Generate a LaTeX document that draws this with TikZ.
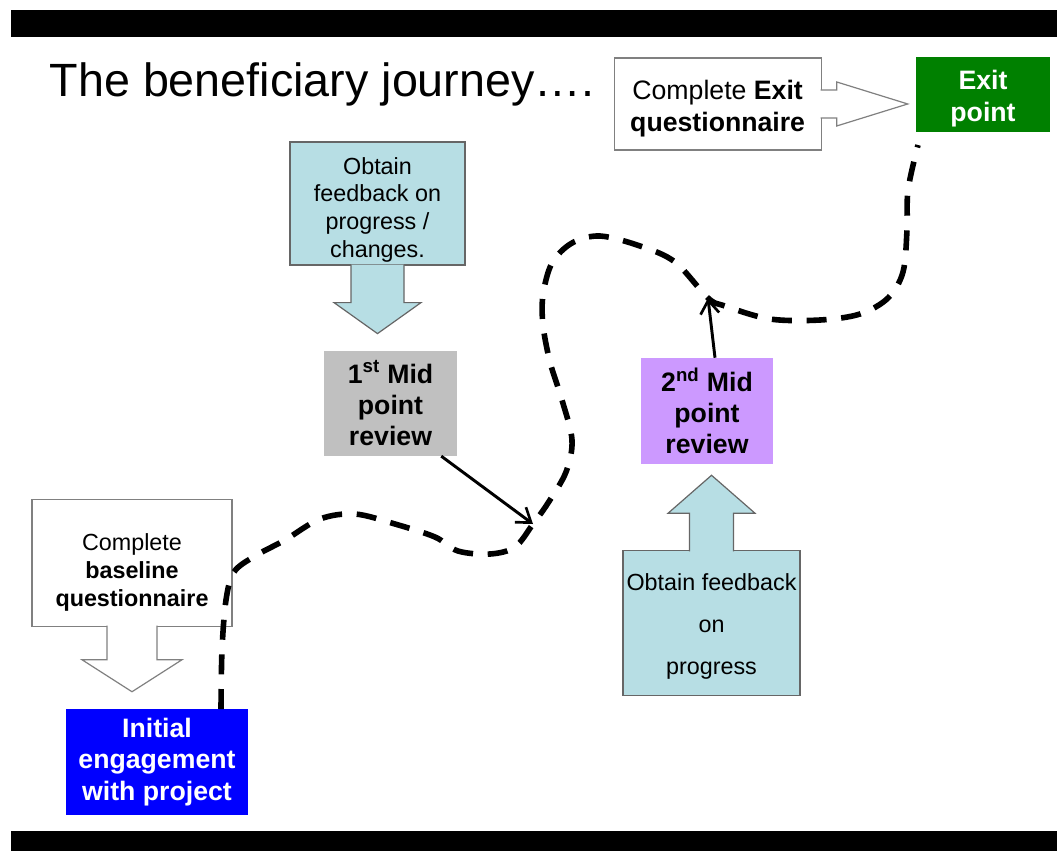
\documentclass[tikz,border=0pt]{standalone}
\usepackage{fontspec}
\setmainfont{Liberation Sans}
\usetikzlibrary{positioning,arrows.meta}

\definecolor{feedcyan}{RGB}{183,222,228}
\definecolor{midgray}{RGB}{192,192,192}
\definecolor{midviolet}{RGB}{204,153,255}
\definecolor{startblue}{RGB}{0,0,255}
\definecolor{exitgreen}{RGB}{0,128,0}

\newcommand{\toppad}[1]{\rule{0pt}{#1}}

\tikzset{
  box/.style={inner sep=0pt,align=center},
  feedbox/.style={box,draw=black!60,fill=feedcyan,line width=0.9pt},
  formbox/.style={box,draw=black!50,fill=white,line width=0.9pt},
  stagebox/.style={box,font=\fontsize{20}{23.5}\selectfont\bfseries},
  feedarrow/.style={draw=black!60,fill=feedcyan,line width=0.9pt,line join=miter},
  formarrow/.style={draw=black!50,fill=white,line width=0.9pt,line join=miter},
  pointer/.style={line width=2.2pt,-{Straight Barb[length=10pt,width=14pt,line width=2pt]}},
  journey/.style={line width=4.2pt,dash pattern=on 15pt off 11pt}
}

\begin{document}
\begin{tikzpicture}[x=0.75pt,y=-0.75pt]
\useasboundingbox (0,0) rectangle (1057,851);
\fill[white] (0,0) rectangle (1057,851);
\fill[black] (11,10) rectangle (1057,37);
\fill[black] (11,831) rectangle (1057,851);

\node[anchor=base west,font=\fontsize{35}{40}\selectfont] (title) at (45,96)
  {The beneficiary journey….};

% stages
\node[stagebox,
    fill=exitgreen,
    text=white,
    minimum width=100.5pt,
    minimum height=56.25pt
] (exitpt) at (983,94.5) {\toppad{20.5pt}Exit\\point};

\node[formbox,
    left=70.5pt of exitpt,
    yshift=-7.1pt,
    minimum width=155.25pt,
    minimum height=69pt,
    font=\fontsize{20}{24}\selectfont
] (exitq) {\toppad{22pt}Complete \textbf{Exit}\\\textbf{questionnaire}};

\node[feedbox,
    minimum width=131.25pt,
    minimum height=92.25pt,
    font=\fontsize{17.5}{20.8}\selectfont
] (fb1) at (377.5,203.5) {\toppad{22pt}Obtain\\feedback on\\progress /\\changes.};

\node[stagebox,
    fill=midgray,
    below=63.75pt of fb1,
    xshift=9.75pt,
    minimum width=99.75pt,
    minimum height=78.75pt
] (mid1) {1\textsuperscript{st} Mid\\point\\review};

\node[stagebox,
    fill=midviolet,
    minimum width=99pt,
    minimum height=79.5pt
] (mid2) at (707,411) {2\textsuperscript{nd} Mid\\point\\review};

\node[feedbox,
    below=64.5pt of mid2,
    xshift=3.4pt,
    minimum width=132.75pt,
    minimum height=108.75pt,
    font=\fontsize{17.5}{31.5}\selectfont
] (fb2) {\toppad{18pt}Obtain feedback\\on\\progress};

\node[stagebox,
    fill=startblue,
    text=white,
    minimum width=136.5pt,
    minimum height=79.5pt
] (init) at (157,762) {Initial\\engagement\\with project};

\node[formbox,
    above=61.5pt of init,
    xshift=-18.75pt,
    minimum width=150pt,
    minimum height=95.25pt,
    font=\fontsize{17.5}{21}\selectfont
] (base) {\toppad{28pt}Complete\\\textbf{baseline}\\\textbf{questionnaire}};

% block arrows
\path[feedarrow] (fb1.south) ++(-26.5,-1) -- ++(0,38) -- ++(-17,0)
  -- ++(43.5,31) -- ++(43.5,-31) -- ++(-17,0) -- ++(0,-38);
\path[feedarrow] (fb2.north) ++(-22,1) -- ++(0,-38) -- ++(-21.5,0)
  -- ++(43.5,-38) -- ++(43.5,38) -- ++(-21.5,0) -- ++(0,38);
\path[formarrow] (base.south) ++(-25,-1) -- ++(0,34) -- ++(-25,0)
  -- ++(50,32) -- ++(50,-32) -- ++(-25,0) -- ++(0,-34);
\path[formarrow] (exitq.east) ++(-1,-14) -- ++(16,0) -- ++(0,-8)
  -- ++(71,22) -- ++(-71,22) -- ++(0,-8) -- ++(-16,0);

% the journey
\coordinate (j0) at (221,709);
\coordinate (j1) at (533,524);
\coordinate (j2) at (708,298);
\coordinate (j3) at (918,145);
\draw[journey] plot[smooth,tension=0.55] coordinates {(j0) (222,650) (226,600)
  (234,572) (255,556) (285,540) (320,519) (355,514) (395,524) (435,537)
  (458,551) (490,554) (515,547) (j1) (548,503) (566,472) (572,440) (562,400)
  (550,362) (543,325) (543,295) (552,263) (572,243) (600,236) (640,246)
  (675,262) (j2) (725,306) (770,319) (820,320) (860,314) (888,298) (903,272)
  (907,230) (908,190) (j3)};

\draw[pointer] ([xshift=-12pt]mid1.south east) -- (j1);
\draw[pointer] ([xshift=6pt]mid2.north) -- (j2);
\end{tikzpicture}
\end{document}
